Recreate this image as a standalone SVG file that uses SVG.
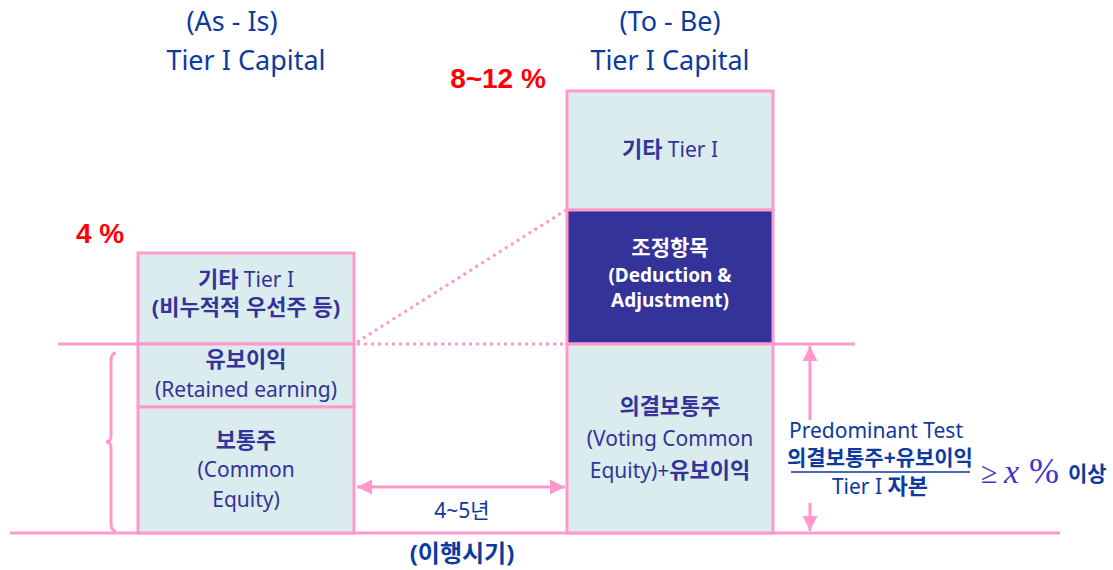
<svg xmlns="http://www.w3.org/2000/svg" width="1113" height="570" viewBox="0 0 1113 570">
<defs>
<style>
.t{font-family:"Noto Sans","Noto Sans CJK KR",sans-serif;}
.title{font-size:27px;fill:#0d3a9e;text-anchor:middle;}
.pct{font-family:"Liberation Sans Narrow","Liberation Sans",sans-serif;font-weight:bold;fill:#ff0000;font-size:28px;text-anchor:middle;}
.box{fill:#daecee;stroke:#ff99cc;stroke-width:3;}
.dark{fill:#333399;stroke:#ff99cc;stroke-width:3;}
.bt{font-size:21px;fill:#333399;text-anchor:middle;}
.b{font-weight:bold;}
.k{font-weight:bold;font-size:22px;}
.wt{font-size:19px;fill:#ffffff;text-anchor:middle;font-weight:bold;}
.ln{stroke:#ff99cc;stroke-width:3;fill:none;}
.dot{stroke:#ff99cc;stroke-width:3;fill:none;stroke-dasharray:3 4;}
.bl{fill:#0d3a9e;text-anchor:middle;font-size:21px;}
.m{font-family:"Liberation Serif",serif;fill:#4433cc;}
</style>
<marker id="ah" viewBox="0 0 10 10" refX="10" refY="5" markerWidth="5" markerHeight="5" orient="auto-start-reverse" markerUnits="strokeWidth">
<path d="M0,0 L10,5 L0,10 z" fill="#ff99cc"/>
</marker>
</defs>

<g id="titles" class="t">
<text class="title" x="232" y="31">(As - Is)</text>
<text class="title" x="246" y="70">Tier I Capital</text>
<text class="title" x="670" y="31">(To - Be)</text>
<text class="title" x="670" y="70">Tier I Capital</text>
<text class="pct" x="498" y="88">8~12 %</text>
<text class="pct" x="100" y="243">4 %</text>
</g>

<g id="connectors">
<line class="ln" x1="58" y1="344" x2="138" y2="344"/>
<line class="dot" x1="357" y1="344" x2="566" y2="344"/>
<line class="dot" x1="357" y1="342" x2="566" y2="210"/>
<line class="ln" x1="773" y1="344" x2="855" y2="344"/>
<line class="ln" x1="10" y1="533" x2="1060" y2="533"/>
<path class="ln" stroke-width="2.5" d="M116,353 Q111,353 111,361 L111,436 Q111,442 106,442 Q111,442 111,448 L111,523 Q111,531 116,531"/>
<line class="ln" x1="357" y1="487" x2="565" y2="487" marker-start="url(#ah)" marker-end="url(#ah)"/>
<line class="ln" x1="810" y1="346" x2="810" y2="420" marker-start="url(#ah)"/>
<line class="ln" x1="810" y1="503" x2="810" y2="531" marker-end="url(#ah)"/>
</g>

<g id="asis-other" class="t">
<rect class="box" x="138" y="253" width="216" height="91"/>
<text class="bt" x="246" y="287"><tspan class="k">기타</tspan> Tier I</text>
<text class="bt k" x="246" y="315">(비누적적 우선주 등)</text>
</g>
<g id="asis-retained" class="t">
<rect class="box" x="138" y="344" width="216" height="63"/>
<text class="bt k" x="246" y="367">유보이익</text>
<text class="bt" x="246" y="397">(Retained earning)</text>
</g>
<g id="asis-common" class="t">
<rect class="box" x="138" y="407" width="216" height="126"/>
<text class="bt k" x="246" y="448">보통주</text>
<text class="bt" x="246" y="477">(Common</text>
<text class="bt" x="246" y="507">Equity)</text>
</g>

<g id="tobe-other" class="t">
<rect class="box" x="567" y="91" width="206" height="119"/>
<text class="bt" x="670" y="157"><tspan class="k">기타</tspan> Tier I</text>
</g>
<g id="tobe-deduction" class="t">
<rect class="dark" x="567" y="210" width="206" height="134"/>
<text class="wt" x="670" y="255" style="font-size:21px">조정항목</text>
<text class="wt" x="670" y="282">(Deduction &amp;</text>
<text class="wt" x="670" y="307">Adjustment)</text>
</g>
<g id="tobe-voting" class="t">
<rect class="box" x="567" y="344" width="206" height="189"/>
<text class="bt k" x="670" y="414">의결보통주</text>
<text class="bt" x="670" y="446">(Voting Common</text>
<text class="bt" x="670" y="478">Equity)+<tspan class="k">유보이익</tspan></text>
</g>

<g id="period" class="t">
<text class="bl" x="462" y="518">4~5년</text>
<text class="bl b" x="462" y="562" style="font-size:24px">(이행시기)</text>
</g>

<g id="test" class="t">
<text class="bl" x="876" y="438">Predominant Test</text>
<text class="bl b" x="880" y="465">의결보통주+유보이익</text>
<line x1="791" y1="472" x2="970" y2="472" stroke="#0d3a9e" stroke-width="1.5"/>
<text class="bl" x="880" y="494">Tier I <tspan class="k">자본</tspan></text>
<text class="m" x="981" y="483" font-size="30">≥</text>
<text class="m" x="1004" y="483" font-size="34" font-style="italic">x</text>
<text class="m" x="1029" y="483" font-size="36">%</text>
<text class="t b" x="1068" y="481" font-size="21" fill="#0d3a9e">이상</text>
</g>
</svg>
